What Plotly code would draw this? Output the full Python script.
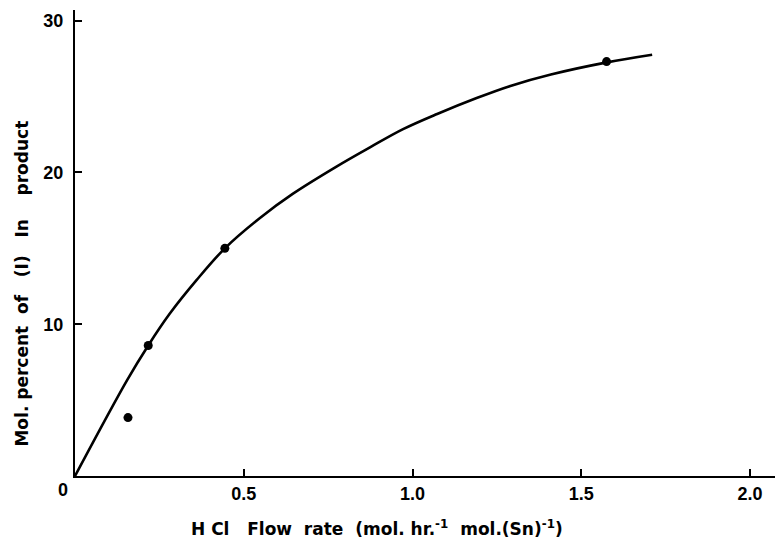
import plotly.graph_objects as go

# Measured data points (HCl flow rate vs mol. percent of (I))
point_x = [0.157, 0.217, 0.444, 1.575]
point_y = [3.85, 8.6, 15.0, 27.3]

# Smooth fitted curve
curve_x = [0.0, 0.154, 0.217, 0.281, 0.36, 0.444, 0.548, 0.646, 0.776,
           0.874, 0.972, 1.073, 1.19, 1.29, 1.41, 1.576, 1.71]
curve_y = [0.0, 6.3, 8.6, 10.7, 12.9, 15.0, 17.0, 18.6, 20.4,
           21.65, 22.85, 23.85, 24.9, 25.7, 26.45, 27.25, 27.75]

x_ticks = [0.5, 1.0, 1.5, 2.0]
x_tick_text = ["0.5", "1.0", "1.5", "2.0"]
y_ticks = [10, 20, 30]
y_tick_text = ["10", "20", "30"]

FONT = "Liberation Sans, Arial, sans-serif"
TFONT = "DejaVu Sans, sans-serif"

fig = go.Figure()
fig.add_trace(go.Scatter(x=curve_x, y=curve_y, mode="lines",
                         line=dict(color="black", width=2.6, shape="spline", smoothing=1.0),
                         showlegend=False, hoverinfo="skip"))
fig.add_trace(go.Scatter(x=point_x, y=point_y, mode="markers",
                         marker=dict(color="black", size=9),
                         showlegend=False))

fig.update_layout(
    width=776, height=540,
    margin=dict(l=75, r=1, t=10, b=64),
    paper_bgcolor="white", plot_bgcolor="white",
    xaxis=dict(range=[0, 2.074], tickvals=x_ticks, ticktext=x_tick_text,
               showline=True, linecolor="black", linewidth=2,
               ticks="inside", ticklen=7, tickwidth=2, tickcolor="black",
               showgrid=False, zeroline=False,
               tickfont=dict(family=FONT, size=18, color="black", weight="bold")),
    yaxis=dict(range=[0, 30.7], tickvals=y_ticks, ticktext=y_tick_text,
               showline=True, linecolor="black", linewidth=2,
               ticks="inside", ticklen=7, tickwidth=2, tickcolor="black",
               ticklabelstandoff=6,
               showgrid=False, zeroline=False,
               tickfont=dict(family=FONT, size=18, color="black", weight="bold")),
    annotations=[
        dict(text="0", xref="paper", yref="paper", x=0, y=0, xshift=-12, yshift=-14,
             showarrow=False, xanchor="center", yanchor="middle",
             font=dict(family=FONT, size=18, color="black", weight="bold")),
        dict(text="H Cl   Flow  rate  (mol. hr.<sup>-1</sup>  mol.(Sn)<sup>-1</sup>)",
             xref="paper", yref="paper", x=0.429, y=0, xshift=2, yshift=-52,
             showarrow=False, xanchor="center", yanchor="middle",
             font=dict(family=TFONT, size=17, color="black", weight="bold")),
        dict(text="Mol. percent  of   (I)   In    product",
             xref="paper", yref="paper", x=0, y=0.413, xshift=-53,
             textangle=-90, showarrow=False, xanchor="center", yanchor="middle",
             font=dict(family=TFONT, size=17, color="black", weight="bold")),
    ],
)

fig.write_html("out.html", config={"displayModeBar": False},
               post_script="document.body.style.margin='0px';")
